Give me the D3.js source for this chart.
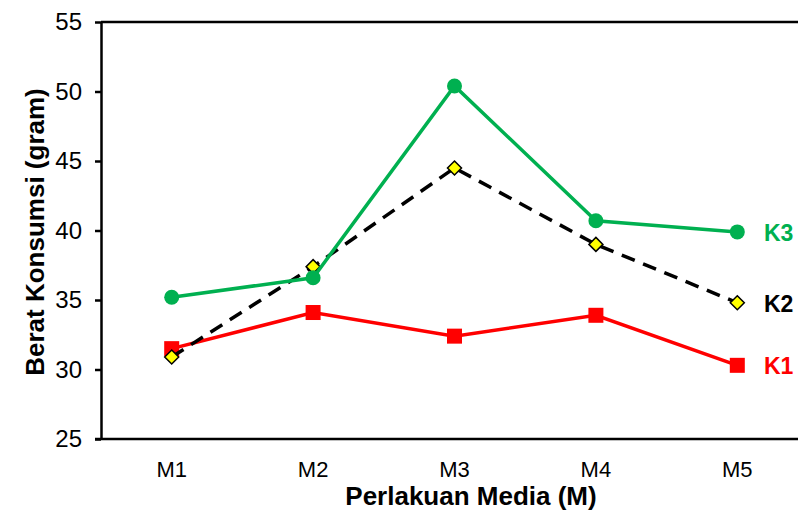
<html>
<head>
<meta charset="utf-8">
<script src="https://d3js.org/d3.v7.min.js"></script>
<style>
  body { margin: 0; background: #fff; }
  text { font-family: "Liberation Sans", Arial, sans-serif; }
</style>
</head>
<body>
<div id="chart"></div>
<script>
// data
var categories = ["M1", "M2", "M3", "M4", "M5"];
var k1 = [31.5, 34.1, 32.4, 33.9, 30.3];
var k2 = [30.9, 37.4, 44.5, 39.0, 34.8];
var k3 = [35.2, 36.6, 50.4, 40.7, 39.9];
var seriesNames = ["K1", "K2", "K3"];
var yTicks = [25, 30, 35, 40, 45, 50, 55];

var width = 798, height = 513;
var plotLeft = 101, plotTop = 22, plotBottom = 439, plotRight = 808;

var svg = d3.select("#chart").append("svg")
  .attr("width", width)
  .attr("height", height);

var x = d3.scalePoint().domain(categories).range([plotLeft, plotRight]).padding(0.5);
var y = d3.scaleLinear().domain([25, 55]).range([plotBottom, plotTop]);

// frame lines (top and bottom run off the right edge)
svg.append("line").attr("x1", plotLeft).attr("x2", width).attr("y1", plotTop).attr("y2", plotTop)
  .attr("stroke", "#000").attr("stroke-width", 2.5);
svg.append("line").attr("x1", plotLeft - 6).attr("x2", width).attr("y1", plotBottom).attr("y2", plotBottom)
  .attr("stroke", "#000").attr("stroke-width", 2.5);

// y axis
var yAxis = svg.append("g")
  .attr("transform", "translate(" + plotLeft + ",0)")
  .call(d3.axisLeft(y).tickValues(yTicks).tickSize(6).tickSizeOuter(0).tickPadding(13));
yAxis.select(".domain").attr("stroke", "#000").attr("stroke-width", 2.5);
yAxis.selectAll(".tick line").attr("stroke", "#000").attr("stroke-width", 2.5);
yAxis.selectAll(".tick text")
  .style("font-size", "24px")
  .style("font-family", "'Liberation Sans', Arial, sans-serif")
  .attr("fill", "#000");

// x labels
svg.selectAll(".xlab")
  .data(categories)
  .enter().append("text")
  .attr("x", function(d) { return x(d); })
  .attr("y", 477)
  .attr("text-anchor", "middle")
  .style("font-size", "22px")
  .text(function(d) { return d; });

// axis titles
svg.append("text")
  .attr("x", 471).attr("y", 505)
  .attr("text-anchor", "middle")
  .style("font-size", "26px").style("font-weight", "bold")
  .text("Perlakuan Media (M)");

svg.append("text")
  .attr("transform", "translate(44,232) rotate(-90)")
  .attr("text-anchor", "middle")
  .style("font-size", "26px").style("font-weight", "bold")
  .text("Berat Konsumsi (gram)");

var series = [
  { name: seriesNames[0], values: k1, color: "#ff0000", dash: null, marker: "square" },
  { name: seriesNames[1], values: k2, color: "#000000", dash: "14,9", marker: "diamond" },
  { name: seriesNames[2], values: k3, color: "#00b050", dash: null, marker: "circle" }
];

var line = d3.line()
  .x(function(d, i) { return x(categories[i]); })
  .y(function(d) { return y(d); });

series.forEach(function(s) {
  var g = svg.append("g");
  g.append("path")
    .attr("d", line(s.values))
    .attr("fill", "none")
    .attr("stroke", s.color)
    .attr("stroke-width", 3.5)
    .attr("stroke-dasharray", s.dash);

  var pts = g.selectAll(".pt")
    .data(s.values)
    .enter();

  if (s.marker == "square") {
    pts.append("rect")
      .attr("x", function(d, i) { return x(categories[i]) - 7.5; })
      .attr("y", function(d) { return y(d) - 7.5; })
      .attr("width", 15).attr("height", 15)
      .attr("fill", s.color);
  } else if (s.marker == "circle") {
    pts.append("circle")
      .attr("cx", function(d, i) { return x(categories[i]); })
      .attr("cy", function(d) { return y(d); })
      .attr("r", 7.5)
      .attr("fill", s.color);
  } else {
    pts.append("path")
      .attr("d", d3.symbol().type(d3.symbolDiamond2).size(125))
      .attr("transform", function(d, i) { return "translate(" + x(categories[i]) + "," + y(d) + ")"; })
      .attr("fill", "#ffff00")
      .attr("stroke", "#000")
      .attr("stroke-width", 1.5);
  }

  g.append("text")
    .attr("x", 764)
    .attr("y", y(s.values[4]) + 9)
    .style("font-size", "23px").style("font-weight", "bold")
    .attr("fill", s.color)
    .text(s.name);
});
</script>
</body>
</html>
